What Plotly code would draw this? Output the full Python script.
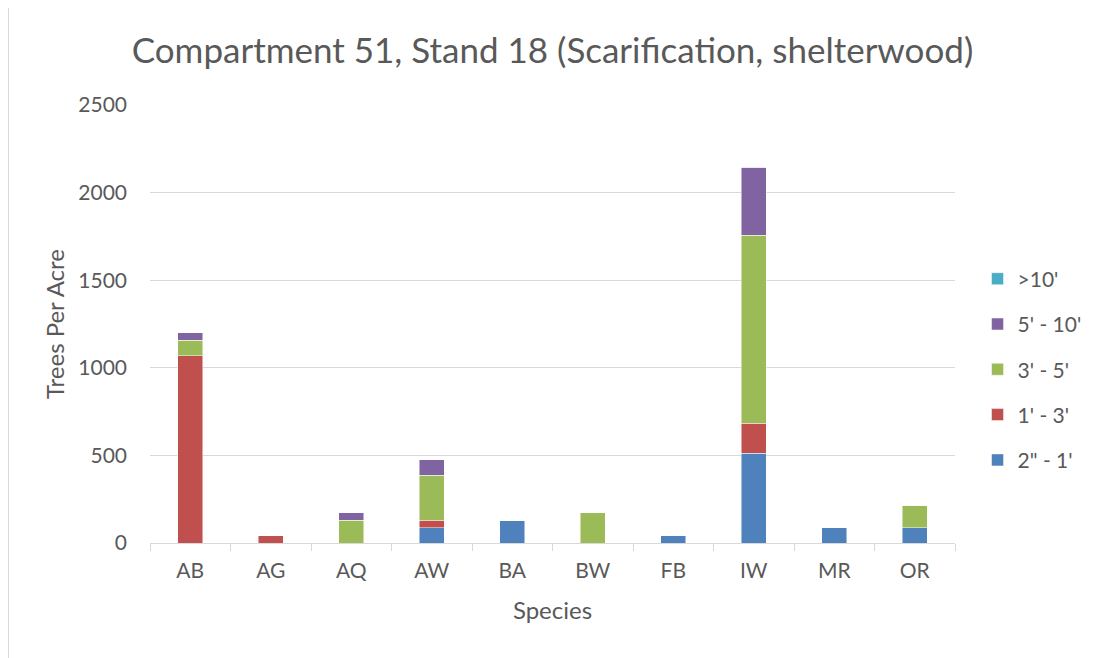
import plotly.graph_objects as go

species = ["AB", "AG", "AQ", "AW", "BA", "BW", "FB", "IW", "MR", "OR"]
s_2in_1ft = [0, 0, 0, 87, 130, 0, 43, 512, 87, 87]
s_1_3ft = [1069, 43, 0, 43, 0, 0, 0, 171, 0, 0]
s_3_5ft = [88, 0, 130, 257, 0, 174, 0, 1075, 0, 128]
s_5_10ft = [42, 0, 43, 88, 0, 0, 0, 386, 0, 0]
s_gt10ft = [0, 0, 0, 0, 0, 0, 0, 0, 0, 0]

series = [
    ("2\" - 1'", s_2in_1ft, "#4F81BD"),
    ("1' - 3'", s_1_3ft, "#C0504D"),
    ("3' - 5'", s_3_5ft, "#9BBB59"),
    ("5' - 10'", s_5_10ft, "#8064A2"),
    (">10'", s_gt10ft, "#4BACC6"),
]

FONT = "Lato, Open Sans, sans-serif"
W, H = 1088, 650
L, T, PW, PH = 142, 97, 805, 438

fig = go.Figure()
n = len(series)
for i, (name, vals, color) in enumerate(series):
    fig.add_trace(go.Bar(x=species, y=vals, name=name, legendgroup=name,
                         legendrank=1000 + (n - i),
                         marker=dict(color=color, line=dict(color="rgba(255,255,255,0.6)", width=0.8))))

fig.update_layout(
    barmode="stack",
    bargap=0.69,
    width=W, height=H,
    paper_bgcolor="white", plot_bgcolor="white",
    margin=dict(l=L, r=W - L - PW, t=T, b=H - T - PH, autoexpand=False),
    title=dict(text="Compartment 51, Stand 18 (Scarification, shelterwood)",
               x=0.5, xref="paper", xanchor="center", y=1 - 43 / H, yanchor="middle",
               font=dict(family=FONT, size=35, color="#595959")),
    font=dict(family=FONT, color="#595959", size=21),
    legend=dict(traceorder="grouped", x=1.028, y=0.396, yanchor="middle", xanchor="left",
                font=dict(size=21, color="#595959"), tracegroupgap=15),
    showlegend=True,
)
fig.update_yaxes(range=[0, 2500], dtick=500, showgrid=True, gridcolor="#D9D9D9", gridwidth=1,
                 zeroline=False, showline=False, ticks="", ticklabelstandoff=22,
                 title=dict(text="Trees Per Acre", font=dict(size=24, color="#595959"), standoff=6),
                 tickfont=dict(size=21, color="#595959"))
fig.update_xaxes(showline=True, linecolor="#D9D9D9", linewidth=1, ticks="outside",
                 tickson="boundaries", ticklen=7, tickcolor="#D9D9D9", ticklabelstandoff=9,
                 title=dict(text="Species", font=dict(size=24, color="#595959"), standoff=20),
                 tickfont=dict(size=21, color="#595959"))
fig.add_shape(type="line", xref="paper", yref="paper",
              x0=-L / PW, x1=-L / PW, y0=-(H - T - PH) / PH, y1=(T + PH) / PH,
              line=dict(color="#D9D9D9", width=2))
fig.write_html("out.html")
